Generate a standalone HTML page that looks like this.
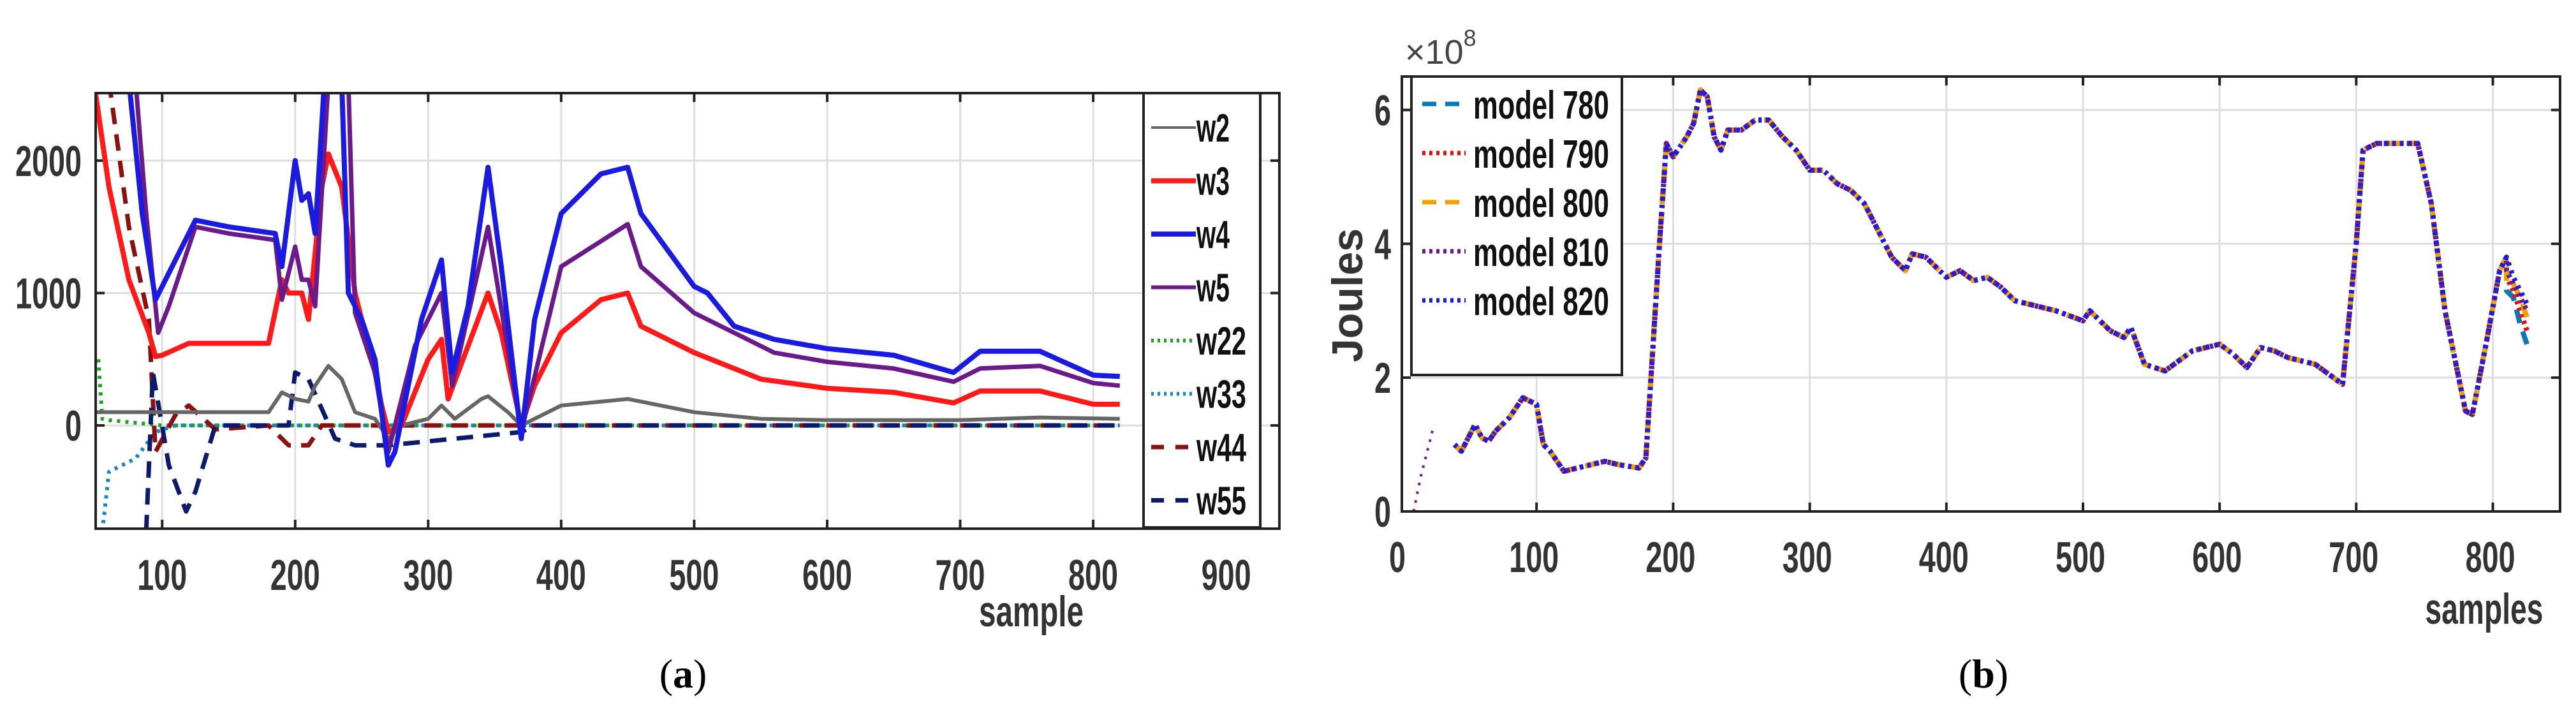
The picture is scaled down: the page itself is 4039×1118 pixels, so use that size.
<!DOCTYPE html>
<html><head><meta charset="utf-8"><style>
html,body{margin:0;padding:0;background:#fff;}
svg{display:block;font-family:"Liberation Sans",sans-serif;}
.tick{font-family:"Liberation Sans",sans-serif;font-size:68px;font-weight:bold;fill:#333;}
.leg{font-family:"Liberation Sans",sans-serif;font-size:62px;font-weight:bold;fill:#111;}
</style></head><body>
<svg id="fig" width="4039" height="1118" viewBox="0 0 4039 1118" xmlns="http://www.w3.org/2000/svg">
<defs>
<clipPath id="clipA"><rect x="150" y="146" width="1856" height="683"/></clipPath>
<clipPath id="clipB"><rect x="2198" y="120" width="1816" height="682"/></clipPath>
</defs>
<g id="chartA"></g>
<g id="chartB"></g>
<text x="1071" y="1078" font-family="Liberation Serif,serif" font-size="64" text-anchor="middle">(<tspan font-weight="bold">a</tspan>)</text>
<text x="3110" y="1078" font-family="Liberation Serif,serif" font-size="64" text-anchor="middle">(<tspan font-weight="bold">b</tspan>)</text>
</svg>
<script>
// ---- Chart A data ----
const aXTicks = [100,200,300,400,500,600,700,800,900];
const aYTicks = [0,1000,2000];
const w2x = [50,95,180,190,200,210,215,225,235,245,260,270,280,300,310,320,340,345,360,370,380,400,450,500,550,600,700,760,820];
const w2y = [100,100,100,250,200,180,300,450,350,100,50,-100,0,50,150,50,200,220,100,0,50,150,200,100,50,40,40,60,50];
const w3x = [50,60,75,90,95,100,120,180,190,195,205,210,220,225,235,245,260,265,270,280,300,310,315,330,345,355,370,380,400,430,450,460,500,550,600,650,695,715,760,800,820];
const w3y = [2500,1800,1100,700,520,530,620,620,1100,1000,1000,800,1800,2050,1800,1000,400,150,-50,0,500,650,200,600,1000,700,0,300,700,950,1000,750,550,350,280,250,170,260,260,160,160];
const w4x = [75,85,95,105,125,150,185,190,200,205,210,215,222,235,240,250,260,270,275,295,310,318,330,345,355,370,380,400,430,450,460,500,510,530,560,600,650,695,715,760,800,820];
const w4y = [2600,1600,950,1150,1550,1500,1450,1200,2000,1700,1750,1450,2600,2600,1000,800,500,-300,-200,800,1250,400,900,1950,1200,-100,800,1600,1900,1950,1600,1050,1000,750,650,580,530,400,560,560,380,370];
const w5x = [80,88,97,105,125,150,185,190,200,205,210,215,225,240,245,260,270,290,310,318,345,370,400,450,460,500,530,560,600,650,695,715,760,800,820];
const w5y = [2600,1600,700,900,1500,1450,1400,950,1350,1100,1100,900,2600,2600,850,400,-200,600,1000,300,1500,-50,1200,1520,1200,850,700,550,480,430,330,430,450,320,300];
const w22x = [52,55,60,100,820];
const w22y = [500,50,40,0,0];
const w33x = [55,60,80,95,110,820];
const w33y = [-800,-350,-250,-50,0,0];
const w44x = [60,75,90,95,110,120,140,180,195,210,220,260,820];
const w44y = [2600,1500,800,-200,80,150,-30,0,-150,-150,0,0,0];
const w55x = [88,93,105,118,125,140,195,200,210,230,245,270,320,370,380,820];
const w55y = [-800,400,-300,-650,-500,0,0,400,350,-100,-150,-150,-100,-50,0,0];
const aLegend = ["w2","w3","w4","w5","w22","w33","w44","w55"];

// ---- Chart B data ----
const bXTicks = [0,100,200,300,400,500,600,700,800];
const bYTicks = [0,2,4,6];
const bx = [40,45,55,60,65,70,80,90,100,105,110,120,130,140,150,160,175,180,190,195,200,210,215,220,225,230,235,240,250,260,270,280,290,300,310,320,330,340,350,360,370,375,385,400,410,420,430,440,450,460,480,500,505,520,530,535,545,560,580,600,610,620,630,640,650,670,690,700,705,715,730,745,755,765,780,785,795,805,810];
const by = [1.0,0.9,1.3,1.1,1.05,1.2,1.4,1.7,1.6,1.0,0.9,0.6,0.65,0.7,0.75,0.7,0.65,0.8,4.0,5.5,5.3,5.6,5.8,6.3,6.2,5.6,5.4,5.7,5.7,5.85,5.85,5.6,5.4,5.1,5.1,4.9,4.8,4.6,4.2,3.8,3.6,3.85,3.8,3.5,3.6,3.45,3.5,3.35,3.15,3.1,3.0,2.85,3.0,2.7,2.6,2.75,2.2,2.1,2.4,2.5,2.35,2.15,2.45,2.4,2.3,2.2,1.9,4.0,5.4,5.5,5.5,5.5,4.6,3.0,1.5,1.45,2.5,3.6,3.8];
const bStartX = [10,15,20,25];
const bStartY = [0,0.5,0.9,1.3];
const tailX = [810,815,820,825];
const tail780 = [3.3,3.2,2.8,2.5];
const tail790 = [3.5,3.3,3.0,2.7];
const tail800 = [3.4,3.4,3.2,2.9];
const tail810 = [3.6,3.4,3.2,3.0];
const tail820 = [3.8,3.5,3.3,3.1];
const bLegend = ["model 780","model 790","model 800","model 810","model 820"];

const NS="http://www.w3.org/2000/svg";
function mk(parent,tag,attrs){const e=document.createElementNS(NS,tag);for(const k in attrs)e.setAttribute(k,attrs[k]);parent.appendChild(e);return e;}
function narrow(t,w){t.setAttribute('textLength',w);t.setAttribute('lengthAdjust','spacingAndGlyphs');}

// ---- Chart A ----
const A=document.getElementById('chartA');
const aL=150,aR=2006,aT=146,aB=829,aX0=50,aX1=940,aY0=-780,aY1=2510;
const ax=v=>aL+(v-aX0)/(aX1-aX0)*(aR-aL);
const ay=v=>aB-(v-aY0)/(aY1-aY0)*(aB-aT);
aXTicks.forEach(t=>{const g=mk(A,'line',{x1:ax(t),x2:ax(t),y1:aT,y2:aB,stroke:'#dedede','stroke-width':3});

const l=mk(A,'text',{x:ax(t),y:925,class:'tick','text-anchor':'middle'});l.textContent=t;narrow(l,String(t).length*26);

mk(A,'line',{x1:ax(t),x2:ax(t),y1:aT,y2:aT+14,stroke:'#222','stroke-width':4});
mk(A,'line',{x1:ax(t),x2:ax(t),y1:aB,y2:aB-14,stroke:'#222','stroke-width':4});});
aYTicks.forEach(t=>{const g=mk(A,'line',{x1:aL,x2:aR,y1:ay(t),y2:ay(t),stroke:'#dedede','stroke-width':3});

const s=String(t);const l=mk(A,'text',{x:128-s.length*26,y:ay(t)+24,class:'tick'});l.textContent=t;narrow(l,s.length*26);

mk(A,'line',{x1:aL,x2:aL+14,y1:ay(t),y2:ay(t),stroke:'#222','stroke-width':4});
mk(A,'line',{x1:aR,x2:aR-14,y1:ay(t),y2:ay(t),stroke:'#222','stroke-width':4});});
const aSeries=[
 [w22x,w22y,'#22a022',6,'5 8','w22-line'],
 [w33x,w33y,'#1a85c0',6,'5 8','w33-line'],
 [w44x,w44y,'#8b1010',7,'26 16','w44-line'],
 [w55x,w55y,'#0b1a6a',7,'26 16','w55-line'],
 [w2x,w2y,'#666',6,'','w2-line'],
 [w3x,w3y,'#ff1a1a',8,'','w3-line'],
 [w5x,w5y,'#6a1a8a',7,'','w5-line'],
 [w4x,w4y,'#1a1ae0',8,'','w4-line']];
const gA=mk(A,'g',{'clip-path':'url(#clipA)'});
aSeries.forEach(s=>{const d=s[0].map((x,i)=>(i?'L':'M')+ax(x).toFixed(1)+' '+ay(s[1][i]).toFixed(1)).join('');
const p=mk(gA,'path',{d:d,fill:'none',stroke:s[2],'stroke-width':s[3],'stroke-linejoin':'round'});
if(s[4])p.setAttribute('stroke-dasharray',s[4]);
});
const fa=mk(A,'rect',{x:aL,y:aT,width:aR-aL,height:aB-aT,fill:'none',stroke:'#222','stroke-width':4});

const xa=mk(A,'text',{x:1617,y:982,class:'tick','text-anchor':'middle'});xa.textContent='sample';narrow(xa,164);

const lgA=mk(A,'g',{});
mk(lgA,'rect',{x:1793,y:146,width:183,height:681,fill:'#fff',stroke:'#222','stroke-width':4});
const lStyles=[['#666',4,''],['#ff1a1a',8,''],['#1a1ae0',8,''],['#6a1a8a',6,''],['#22a022',6,'4 6'],['#1a85c0',6,'4 6'],['#8b1010',7,'20 18'],['#0b1a6a',7,'20 18']];
aLegend.forEach((n,i)=>{const y=200+i*83.5;const ln=mk(lgA,'line',{x1:1805,x2:1875,y1:y,y2:y,stroke:lStyles[i][0],'stroke-width':lStyles[i][1]});
if(lStyles[i][2])ln.setAttribute('stroke-dasharray',lStyles[i][2]);

const t=mk(lgA,'text',{x:1876,y:y+22,class:'leg'});t.textContent=n;narrow(t,n.length*26);
});

// ---- Chart B ----
const B=document.getElementById('chartB');
const bL=2198,bR=4014,bT=120,bB=802,bY0=0,bY1=6.5;
const bxf=v=>2195+v*2.142;
const byf=v=>bB-(v-bY0)/(bY1-bY0)*(bB-bT);
bXTicks.forEach(t=>{if(t>0){const g=mk(B,'line',{x1:bxf(t),x2:bxf(t),y1:bT,y2:bB,stroke:'#dedede','stroke-width':3});

mk(B,'line',{x1:bxf(t),x2:bxf(t),y1:bT,y2:bT+14,stroke:'#222','stroke-width':4});
mk(B,'line',{x1:bxf(t),x2:bxf(t),y1:bB,y2:bB-14,stroke:'#222','stroke-width':4});}
const l=mk(B,'text',{x:bxf(t)-4,y:897,class:'tick','text-anchor':'middle'});l.textContent=t;narrow(l,String(t).length*26);
});
bYTicks.forEach(t=>{if(t>0){const g=mk(B,'line',{x1:bL,x2:bR,y1:byf(t),y2:byf(t),stroke:'#dedede','stroke-width':3});

mk(B,'line',{x1:bL,x2:bL+14,y1:byf(t),y2:byf(t),stroke:'#222','stroke-width':4});
mk(B,'line',{x1:bR,x2:bR-14,y1:byf(t),y2:byf(t),stroke:'#222','stroke-width':4});}
const l=mk(B,'text',{x:2168,y:byf(t)+24,class:'tick','text-anchor':'middle'});l.textContent=t;narrow(l,26);
});
const gB=mk(B,'g',{'clip-path':'url(#clipB)'});
const bStyles=[['#0a78b8','22 14',tail780,'model-780-line'],['#e01010','5 6',tail790,'model-790-line'],['#f0a000','22 14',tail800,'model-800-line'],['#6a1a8a','5 6',tail810,'model-810-line'],['#1a1ae0','5 8',tail820,'model-820-line']];
bStyles.forEach(s=>{
 const xs=bx.concat(tailX), ys=by.concat(s[2]);
 const d=xs.map((x,i)=>(i?'L':'M')+bxf(x).toFixed(1)+' '+byf(ys[i]).toFixed(1)).join('');
 const p=mk(gB,'path',{d:d,fill:'none',stroke:s[0],'stroke-width':8,'stroke-dasharray':s[1],'stroke-linejoin':'round'});
 });
const ds=bStartX.map((x,i)=>(i?'L':'M')+bxf(x)+' '+byf(bStartY[i])).join('');
const sp=mk(gB,'path',{d:ds,fill:'none',stroke:'#6a1a8a','stroke-width':4,'stroke-dasharray':'4 10'});

const fb=mk(B,'rect',{x:bL,y:bT,width:bR-bL,height:bB-bT,fill:'none',stroke:'#222','stroke-width':4});

const ex=mk(B,'text',{x:2203,y:100,'font-size':54,fill:'#444'});ex.innerHTML='×10<tspan dy="-28" font-size="36">8</tspan>';

const yt=mk(B,'text',{x:2136,y:463,class:'tick','text-anchor':'middle',transform:'rotate(-90 2136 463)'});yt.textContent='Joules';narrow(yt,210);

const xb=mk(B,'text',{x:3895,y:978,class:'tick','text-anchor':'middle'});xb.textContent='samples';narrow(xb,185);

const lgB=mk(B,'g',{});
mk(lgB,'rect',{x:2213,y:120,width:330,height:468,fill:'#fff',stroke:'#222','stroke-width':4});
bLegend.forEach((n,i)=>{const y=163+i*77;const ln=mk(lgB,'line',{x1:2230,x2:2298,y1:y,y2:y,stroke:bStyles[i][0],'stroke-width':7,'stroke-dasharray':bStyles[i][1]==='5 8'?'5 6':bStyles[i][1]});

const t=mk(lgB,'text',{x:2310,y:y+23,class:'leg'});t.textContent=n;narrow(t,213);
});
</script>
</body></html>
